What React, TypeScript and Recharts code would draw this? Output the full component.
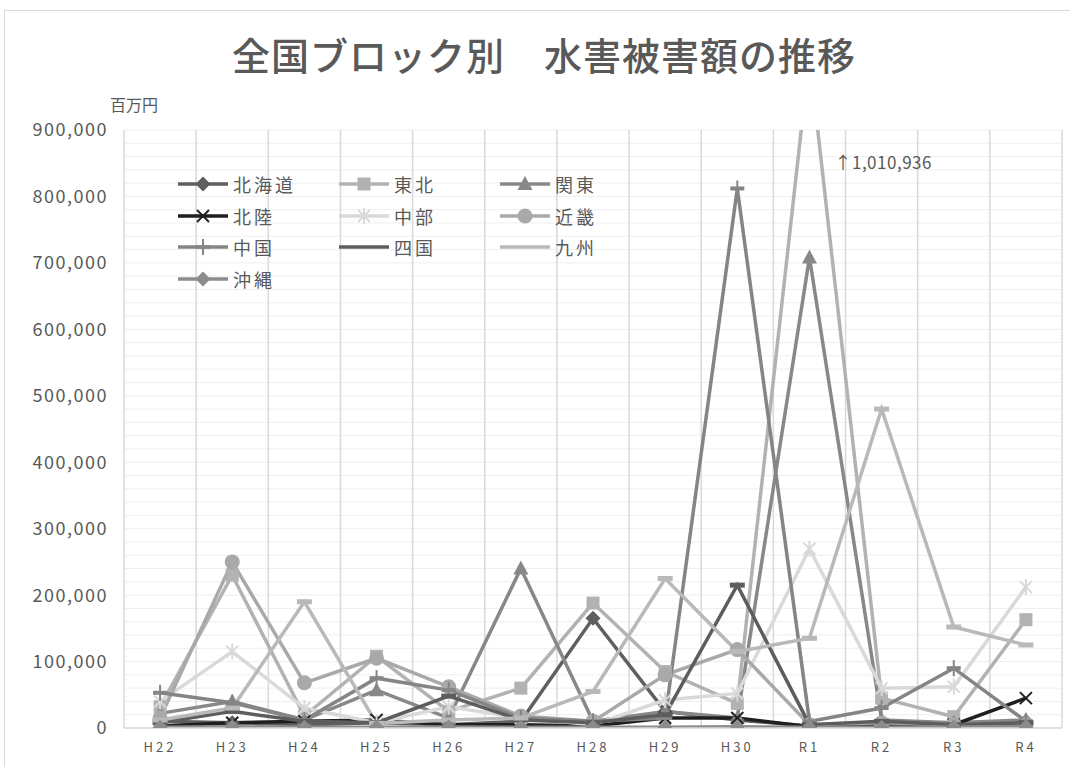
import React from 'react';
import { LineChart, Line, XAxis, YAxis, CartesianGrid, ReferenceLine, ReferenceDot, Legend } from 'recharts';

const categories = ['H22', 'H23', 'H24', 'H25', 'H26', 'H27', 'H28', 'H29', 'H30', 'R1', 'R2', 'R3', 'R4'];

const hokkaido = [10000, 8000, 5000, 8000, 5000, 10000, 165000, 25000, 12000, 3000, 5000, 5000, 10000];
const tohoku = [32000, 230000, 18000, 108000, 25000, 60000, 188000, 85000, 37000, 1010936, 45000, 17000, 163000];
const kanto = [22000, 40000, 12000, 57000, 15000, 240000, 10000, 25000, 15000, 708000, 12000, 8000, 12000];
const hokuriku = [3000, 8000, 10000, 12000, 5000, 5000, 3000, 15000, 15000, 2000, 3000, 5000, 45000];
const chubu = [40000, 115000, 30000, 8000, 32000, 15000, 5000, 42000, 52000, 270000, 60000, 62000, 212000];
const kinki = [15000, 250000, 68000, 105000, 62000, 18000, 10000, 80000, 118000, 5000, 8000, 5000, 5000];
const chugoku = [53000, 38000, 12000, 75000, 57000, 15000, 10000, 15000, 812000, 10000, 30000, 90000, 10000];
const shikoku = [8000, 25000, 10000, 8000, 48000, 12000, 8000, 20000, 215000, 5000, 10000, 5000, 8000];
const kyushu = [12000, 30000, 190000, 7000, 12000, 15000, 55000, 225000, 115000, 135000, 480000, 152000, 125000];
const okinawa = [1000, 2000, 1000, 1000, 1500, 1000, 1000, 1000, 2000, 1000, 1000, 1500, 2000];

const yLabelTicks = [0, 100000, 200000, 300000, 400000, 500000, 600000, 700000, 800000, 900000];
const yGridStep = 20000;
const yGridTicks = Array.from({ length: 900000 / yGridStep + 1 }, (_, i) => i * yGridStep);

const series = [
  { key: '北海道', values: hokkaido, color: '#5f5f5f', shape: 'diamond' },
  { key: '東北', values: tohoku, color: '#b2b2b2', shape: 'square' },
  { key: '関東', values: kanto, color: '#888888', shape: 'triangle' },
  { key: '北陸', values: hokuriku, color: '#1f1f1f', shape: 'x' },
  { key: '中部', values: chubu, color: '#d9d9d9', shape: 'star' },
  { key: '近畿', values: kinki, color: '#a9a9a9', shape: 'circle' },
  { key: '中国', values: chugoku, color: '#858585', shape: 'plus' },
  { key: '四国', values: shikoku, color: '#5d5d5d', shape: 'dash' },
  { key: '九州', values: kyushu, color: '#b9b9b9', shape: 'dash' },
  { key: '沖縄', values: okinawa, color: '#8c8c8c', shape: 'diamond' },
];

const data = categories.map((c, i) => {
  const row: Record<string, number | string> = { idx: i, name: c };
  series.forEach((s) => {
    row[s.key] = s.values[i];
  });
  return row;
});

const boundaries = [...categories.map((_, i) => i - 0.5), categories.length - 0.5];

const FONT = '"Noto Sans CJK JP", "Noto Sans", sans-serif';
const TEXT = '#595959';

function Marker({ shape, color, cx, cy, legend }: { shape: string; color: string; cx: number; cy: number; legend?: boolean }) {
  switch (shape) {
    case 'diamond':
      return <polygon points={`${cx},${cy - 7.5} ${cx + 7.5},${cy} ${cx},${cy + 7.5} ${cx - 7.5},${cy}`} fill={color} />;
    case 'square':
      return <rect x={cx - 6.5} y={cy - 6.5} width={13} height={13} fill={color} />;
    case 'triangle':
      return <polygon points={`${cx},${cy - 8} ${cx + 7.5},${cy + 6} ${cx - 7.5},${cy + 6}`} fill={color} />;
    case 'x':
      return (
        <g stroke={color} strokeWidth={2}>
          <line x1={cx - 6} y1={cy - 6} x2={cx + 6} y2={cy + 6} />
          <line x1={cx - 6} y1={cy + 6} x2={cx + 6} y2={cy - 6} />
        </g>
      );
    case 'star':
      return (
        <g stroke={color} strokeWidth={2}>
          <line x1={cx - 6} y1={cy - 6} x2={cx + 6} y2={cy + 6} />
          <line x1={cx - 6} y1={cy + 6} x2={cx + 6} y2={cy - 6} />
          <line x1={cx} y1={cy - 8} x2={cx} y2={cy + 8} />
        </g>
      );
    case 'circle':
      return <circle cx={cx} cy={cy} r={7.5} fill={color} />;
    case 'plus':
      return (
        <g stroke={color}>
          <line x1={cx} y1={cy - 8} x2={cx} y2={cy + 8} strokeWidth={2} />
          <line x1={cx - 7} y1={cy} x2={cx + 7} y2={cy} strokeWidth={legend ? 3.5 : 4} />
        </g>
      );
    case 'dash':
      return legend ? null : <rect x={cx - 7.5} y={cy - 2.5} width={15} height={5} fill={color} />;
    default:
      return null;
  }
}

const makeDot = (shape: string, color: string) => (props: any) => {
  const { cx, cy, index } = props;
  if (cx == null || cy == null || isNaN(cx) || isNaN(cy)) return <g key={`d-${index}`} />;
  return (
    <g key={`d-${index}`}>
      <Marker shape={shape} color={color} cx={cx} cy={cy} />
    </g>
  );
};

const LegendContent = () => (
  <div
    style={{
      display: 'grid',
      gridTemplateColumns: '161px 161px 161px',
      fontFamily: FONT,
      fontSize: 18,
      letterSpacing: 3,
      color: TEXT,
    }}
  >
    {series.map((s) => (
      <div key={s.key} style={{ display: 'flex', alignItems: 'center', height: 31.7 }}>
        <svg width={50} height={20} style={{ display: 'block' }}>
          <line x1={0} y1={10} x2={50} y2={10} stroke={s.color} strokeWidth={3.5} />
          <Marker shape={s.shape} color={s.color} cx={25} cy={10} legend />
        </svg>
        <span style={{ marginLeft: 5, lineHeight: 1 }}>{s.key}</span>
      </div>
    ))}
  </div>
);

export default function App() {
  return (
    <div
      style={{
        position: 'absolute',
        left: 4,
        top: 10,
        width: 1065,
        height: 757,
        borderLeft: '1px solid #d9d9d9',
        borderTop: '1px solid #d9d9d9',
        background: '#fff',
        overflow: 'hidden',
        fontFamily: FONT,
      }}
    >
      <div
        style={{
          position: 'absolute',
          left: 227,
          top: 24,
          fontSize: 38,
          fontWeight: 500,
          color: TEXT,
          whiteSpace: 'nowrap',
          lineHeight: 1,
          letterSpacing: 1,
        }}
      >
        全国ブロック別　水害被害額の推移
      </div>
      <div
        style={{
          position: 'absolute',
          left: 105,
          top: 85,
          fontSize: 16,
          color: TEXT,
          whiteSpace: 'nowrap',
          lineHeight: 1,
        }}
      >
        百万円
      </div>
      <LineChart
        width={1064}
        height={756}
        data={data}
        margin={{ top: 119, right: 7, bottom: 9, left: 0 }}
        style={{ position: 'absolute', left: 0, top: 0 }}
      >
        <CartesianGrid vertical={false} stroke="#efefef" strokeWidth={1} />
        {boundaries.map((b) => (
          <ReferenceLine key={b} x={b} stroke="#d9d9d9" strokeWidth={1.5} />
        ))}
        <XAxis
          dataKey="idx"
          type="number"
          domain={[-0.5, categories.length - 0.5]}
          ticks={categories.map((_, i) => i)}
          tickFormatter={(v: number) => categories[v]}
          interval={0}
          height={30}
          axisLine={{ stroke: '#d9d9d9', strokeWidth: 1.5 }}
          tickLine={false}
          tickSize={0}
          tickMargin={15}
          tick={{ fill: TEXT, fontSize: 13, letterSpacing: 3, fontFamily: FONT }}
        />
        <YAxis
          type="number"
          domain={[0, 900000]}
          allowDataOverflow
          ticks={yGridTicks}
          interval={0}
          width={119}
          axisLine={false}
          tickLine={false}
          tickSize={0}
          tickMargin={16}
          tickFormatter={(v: number) => (yLabelTicks.includes(v) ? v.toLocaleString('en-US') : '')}
          tick={{ fill: TEXT, fontSize: 18, letterSpacing: 1.5, fontFamily: FONT }}
        />
        <Legend
          layout="vertical"
          verticalAlign="middle"
          align="center"
          content={<LegendContent />}
          wrapperStyle={{ position: 'absolute', left: 173, top: 157, width: 500 }}
        />
        {series.map((s) => (
          <Line
            key={s.key}
            dataKey={s.key}
            type="linear"
            stroke={s.color}
            strokeWidth={3.5}
            dot={makeDot(s.shape, s.color)}
            activeDot={false}
            isAnimationActive={false}
          />
        ))}
        <ReferenceDot
          x={9}
          y={850000}
          r={1}
          fill="none"
          stroke="none"
          label={{ value: '↑1,010,936', position: 'right', offset: 24, fill: TEXT, fontSize: 17, letterSpacing: 0.5, fontFamily: FONT }}
        />
      </LineChart>
    </div>
  );
}
